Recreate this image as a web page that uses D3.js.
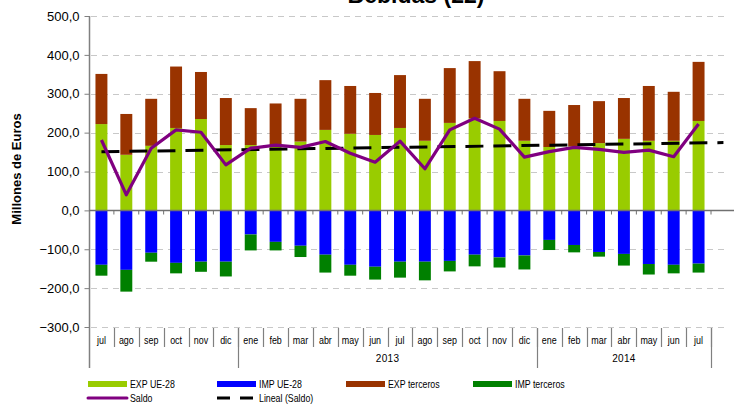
<!DOCTYPE html>
<html>
<head>
<meta charset="utf-8">
<script src="https://cdn.jsdelivr.net/npm/d3@7"></script>
<style>
  html, body { margin: 0; padding: 0; background: #fff; }
  svg { display: block; font-family: "Liberation Sans", Arial, sans-serif; }
</style>
</head>
<body>
<svg id="chart" width="734" height="412"></svg>
<script>
// Monthly trade, July 2012 – July 2014 (millions of euros)
const months = ["jul","ago","sep","oct","nov","dic","ene","feb","mar","abr","may","jun",
                "jul","ago","sep","oct","nov","dic","ene","feb","mar","abr","may","jun","jul"];
const yearGroups = [
  { label: "",     size: 6 },
  { label: "2013", size: 12 },
  { label: "2014", size: 7 }
];
const expUE   = [222,143,166,212,235,168,168,165,177,207,197,194,212,179,225,237,230,179,163,165,173,184,179,179,230];
const expTer  = [129,105,121,158,121,121, 95,110,110,128,123,108,136,108,141,147,128,108, 93,106,108,105,141,126,152];
const impUE   = [-140,-153,-109,-135,-132,-132,-62,-81,-91,-114,-140,-145,-132,-132,-130,-114,-121,-116,-76,-89,-107,-112,-138,-140,-137];
const impTer  = [-28,-56,-23,-27,-26,-38,-41,-22,-29,-46,-28,-33,-41,-48,-27,-30,-26,-36,-26,-19,-12,-30,-27,-22,-23];
const saldo   = [181,40,160,207,201,117,160,168,162,177,147,124,178,107,207,237,209,137,151,162,157,149,155,138,222];
const yTicks  = [-300,-200,-100,0,100,200,300,400,500];

const colors = {
  expUE: "#99CC00", impUE: "#0000FF", expTer: "#993300", impTer: "#008000",
  saldo: "#800080", trend: "#000000"
};

const svg = d3.select("#chart");
const plotLeft = 89, plotTop = 16, plotBottom = 327;
const nSlots = months.length + 1;           // one empty slot after the last month
const slotW = 24.88;
const plotRight = plotLeft + nSlots * slotW;

const x = d3.scaleBand().domain(d3.range(nSlots)).range([plotLeft, plotRight]).paddingInner(0.52).paddingOuter(0.26);
const xc = i => plotLeft + (i + 0.5) * slotW;
const y = d3.scaleLinear().domain([-300, 500]).range([plotBottom, plotTop]);

// gridlines
svg.append("g").selectAll("line").data(yTicks.filter(d => d !== 0)).join("line")
  .attr("x1", plotLeft + 2).attr("x2", 728)
  .attr("y1", d => Math.round(y(d)) + 0.5).attr("y2", d => Math.round(y(d)) + 0.5)
  .attr("stroke", "#c8c8c8").attr("stroke-width", 1).attr("stroke-dasharray", "6,5");

// y axis
const yAxis = d3.axisLeft(y).tickValues(yTicks).tickSize(5).tickPadding(5)
  .tickFormat(d => d3.format(".1f")(d).replace(".", ","));
const gy = svg.append("g").attr("transform", `translate(${plotLeft + 0.5},0)`).call(yAxis);
gy.select(".domain").remove();
gy.selectAll(".tick line").attr("stroke", "#808080");
gy.selectAll(".tick text").attr("font-size", 13).attr("fill", "#000");
svg.append("line").attr("x1", plotLeft + 0.5).attr("x2", plotLeft + 0.5).attr("y1", plotTop).attr("y2", 368)
  .attr("stroke", "#808080").attr("stroke-width", 1.5);

// stacked bars
const bars = svg.append("g");
function barSeries(lo, hi, color) {
  bars.append("g").selectAll("rect").data(months.map((m, i) => i)).join("rect")
    .attr("x", i => x(i)).attr("width", x.bandwidth())
    .attr("y", i => y(Math.max(lo(i), hi(i))))
    .attr("height", i => Math.abs(y(lo(i)) - y(hi(i))))
    .attr("fill", color);
}
barSeries(i => 0, i => expUE[i], colors.expUE);
barSeries(i => expUE[i], i => expUE[i] + expTer[i], colors.expTer);
barSeries(i => 0, i => impUE[i], colors.impUE);
barSeries(i => impUE[i], i => impUE[i] + impTer[i], colors.impTer);

// zero line with category ticks
const y0 = Math.round(y(0)) + 0.5;
svg.append("line").attr("x1", plotLeft).attr("x2", 734).attr("y1", y0).attr("y2", y0)
  .attr("stroke", "#707070").attr("stroke-width", 1.5);
svg.append("g").selectAll("line").data(d3.range(1, nSlots + 1)).join("line")
  .attr("x1", i => plotLeft + i * slotW).attr("x2", i => plotLeft + i * slotW)
  .attr("y1", y0).attr("y2", y0 + 4).attr("stroke", "#707070");

// linear trend of Saldo (least squares over the months)
const xs = saldo.map((d, i) => i + 1);
const mx = d3.mean(xs), my = d3.mean(saldo);
const slope = d3.sum(xs, (v, i) => (v - mx) * (saldo[i] - my)) / d3.sum(xs, v => (v - mx) ** 2);
const trendAt = v => my + slope * (v - mx);
svg.append("line")
  .attr("x1", xc(0)).attr("y1", y(trendAt(1)))
  .attr("x2", xc(nSlots - 1)).attr("y2", y(trendAt(nSlots)))
  .attr("stroke", colors.trend).attr("stroke-width", 3).attr("stroke-dasharray", "18,10");

// Saldo line
svg.append("path").datum(saldo)
  .attr("d", d3.line().x((d, i) => xc(i)).y(d => y(d)))
  .attr("fill", "none").attr("stroke", colors.saldo).attr("stroke-width", 3.2)
  .attr("stroke-linejoin", "round");

// multi-level category axis
const catY1 = 328, catY2 = 347, grpY2 = 368;
const cat = svg.append("g");
cat.selectAll("line.sep").data(d3.range(1, months.length + 1)).join("line")
  .attr("class", "sep")
  .attr("x1", i => Math.round(plotLeft + i * slotW) + 0.5).attr("x2", i => Math.round(plotLeft + i * slotW) + 0.5)
  .attr("y1", catY1).attr("y2", catY2).attr("stroke", "#808080").attr("stroke-width", 1.2);
cat.selectAll("text.m").data(months).join("text")
  .attr("class", "m")
  .attr("transform", (d, i) => `translate(${xc(i)},344) scale(0.85,1)`)
  .attr("text-anchor", "middle").attr("font-size", 10.5).attr("fill", "#000")
  .text(d => d);
let start = 0;
yearGroups.forEach(g => {
  const end = start + g.size;
  const gx = Math.round(plotLeft + end * slotW) + 0.5;
  cat.append("line").attr("x1", gx).attr("x2", gx).attr("y1", catY1).attr("y2", grpY2)
    .attr("stroke", "#808080").attr("stroke-width", 1.2);
  cat.append("text").attr("x", plotLeft + (start + end) / 2 * slotW).attr("y", 362)
    .attr("text-anchor", "middle").attr("font-size", 10).attr("fill", "#000")
    .attr("letter-spacing", 0.3).text(g.label);
  start = end;
});

// axis title
svg.append("text").attr("transform", "translate(21,169) rotate(-90)")
  .attr("text-anchor", "middle").attr("font-size", 13).attr("font-weight", "bold")
  .text("Millones de Euros");

// chart title
svg.append("text").attr("x", 416).attr("y", 3).attr("text-anchor", "middle")
  .attr("font-size", 23).attr("font-weight", "bold").text("Bebidas (22)");

// legend
const legendItems = [
  { label: "EXP UE-28",     type: "rect", color: colors.expUE,  x: 88,  row: 0 },
  { label: "IMP UE-28",     type: "rect", color: colors.impUE,  x: 217, row: 0 },
  { label: "EXP terceros",  type: "rect", color: colors.expTer, x: 346, row: 0 },
  { label: "IMP terceros",  type: "rect", color: colors.impTer, x: 473, row: 0 },
  { label: "Saldo",         type: "line", color: colors.saldo,  x: 88,  row: 1 },
  { label: "Lineal (Saldo)",type: "dash", color: colors.trend,  x: 217, row: 1 }
];
const lg = svg.append("g");
legendItems.forEach(it => {
  const cy = it.row === 0 ? 384 : 398;
  if (it.type === "rect") {
    lg.append("rect").attr("x", it.x).attr("y", cy - 3).attr("width", 39).attr("height", 6).attr("fill", it.color);
  } else if (it.type === "line") {
    lg.append("line").attr("x1", it.x).attr("x2", it.x + 39).attr("y1", cy).attr("y2", cy)
      .attr("stroke", it.color).attr("stroke-width", 3).attr("stroke-linecap", "round");
  } else {
    lg.append("line").attr("x1", it.x).attr("x2", it.x + 38).attr("y1", cy).attr("y2", cy)
      .attr("stroke", it.color).attr("stroke-width", 3).attr("stroke-dasharray", "13,10");
  }
  lg.append("text").attr("transform", `translate(${it.x + 42},${cy + 4}) scale(0.8,1)`)
    .attr("font-size", 11).attr("fill", "#000").text(it.label);
});
</script>
</body>
</html>
